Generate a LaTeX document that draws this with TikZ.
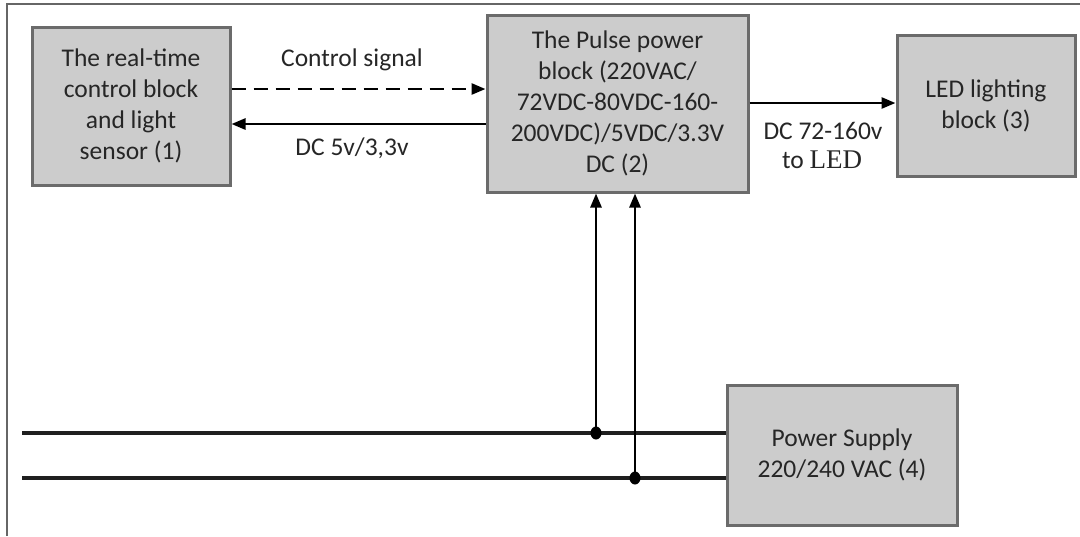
\documentclass[tikz,border=0pt]{standalone}
\usepackage{fontspec}
\setmainfont{Carlito}
\newfontfamily\serifled{Liberation Serif}
\usetikzlibrary{arrows.meta,shapes.geometric}
\begin{document}
\begin{tikzpicture}[x=1pt,y=-1pt,
  blockbox/.style={draw=black!58,line width=3pt,fill=black!20,inner sep=0pt,align=center,font=\fontsize{25.5}{31}\selectfont,text=black!85},
  wire/.style={line width=3.2pt,draw=black!88},
  conn/.style={line width=2.6pt,draw=black,-{Triangle[length=14pt,width=11pt]}},
  lbl/.style={font=\fontsize{25.5}{30}\selectfont,text=black!85,inner sep=0pt},
  dotmark/.style={ellipse,fill=black,inner sep=0pt,minimum width=11pt,minimum height=13pt}]
\useasboundingbox (0,0) rectangle (1080,536);
\fill[white] (0,0) rectangle (1080,536);
\coordinate (fa) at (7,536);
\coordinate (fb) at (7,4);
\coordinate (fc) at (1080,4);
\draw[black!60,line width=2pt] (fa) -- (fb) -- (fc);

\node[blockbox,minimum width=198pt,minimum height=158pt] (b1) at (131,106) {The real-time\\control block\\and light\\sensor (1)};
\node[blockbox,minimum width=261pt,minimum height=177pt] (b2) at (617.5,103.5) {The Pulse power\\block (220VAC/\\72VDC-80VDC-160-\\200VDC)/5VDC/3.3V\\DC (2)};
\node[blockbox,minimum width=178pt,minimum height=141pt] (b3) at (986,105.5) {LED lighting\\block (3)};
\node[blockbox,minimum width=230pt,minimum height=140pt] (b4) at (842,455) {Power Supply\\220/240 VAC (4)};

% control signal (dashed)
\draw[conn,dash pattern=on 14pt off 8pt] (b1.east |- 0,89) -- (b2.west |- 0,89);
\node[lbl] (l1) at (352,60) {Control signal};
% DC 5v/3,3v
\draw[conn] (b2.west |- 0,124) -- (b1.east |- 0,124);
\node[lbl] (l2) at (352,148) {DC 5v/3,3v};
% to LED
\draw[conn] (b2.east |- 0,103) -- (b3.west |- 0,103);
\node[lbl] (l3) at (823,131) {DC 72-160v};
\node[lbl] (l4) at (822,160) {to {\serifled\fontsize{27}{30}\selectfont LED}};

% mains lines
\coordinate (s1) at (22,433);
\coordinate (s2) at (22,478);
\coordinate (j1) at (596,433);
\coordinate (j2) at (635,478);
\draw[wire] (s1) -- (b4.west |- s1);
\draw[wire] (s2) -- (b4.west |- s2);
\draw[conn] (j1) -- (j1 |- b2.south);
\draw[conn] (j2) -- (j2 |- b2.south);
\node[dotmark] (d1) at (j1) {};
\node[dotmark] (d2) at (j2) {};
\end{tikzpicture}
\end{document}
